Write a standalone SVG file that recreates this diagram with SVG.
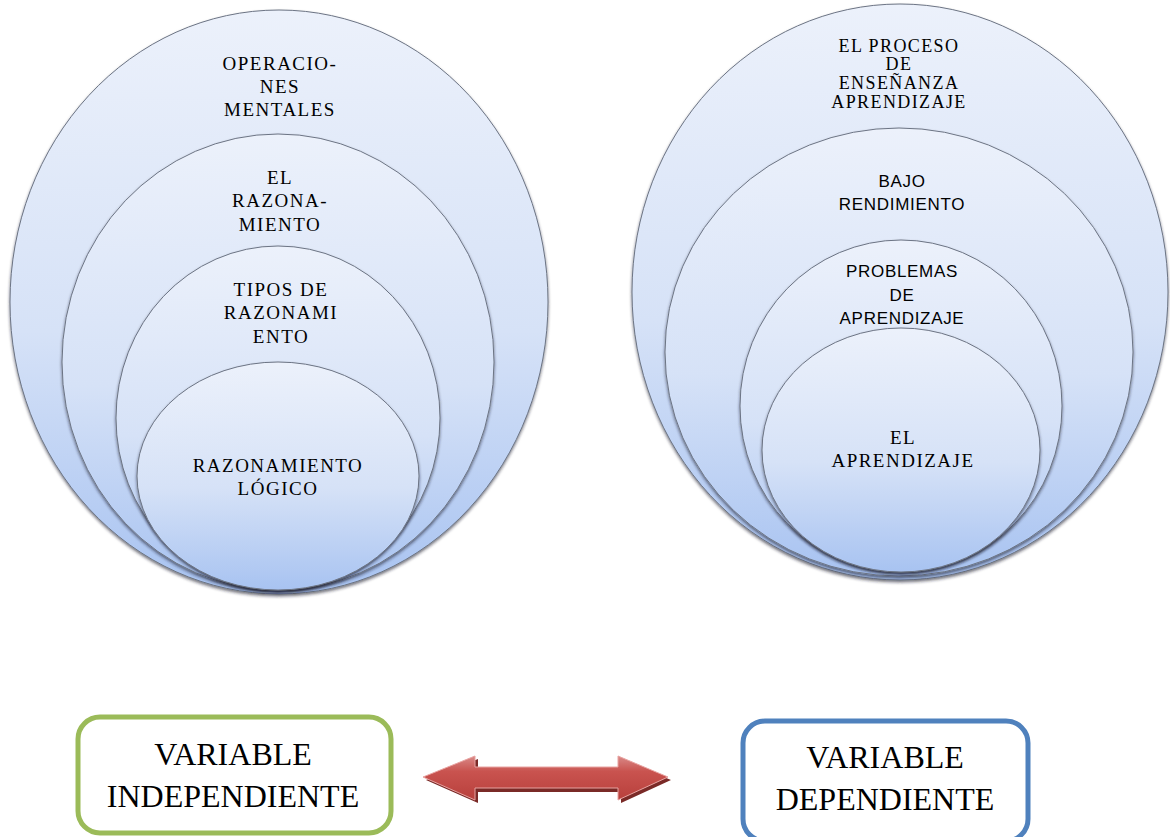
<svg xmlns="http://www.w3.org/2000/svg" width="1170" height="837" viewBox="0 0 1170 837">
  <defs>
    <linearGradient id="bubble" x1="0" y1="0" x2="0" y2="1">
      <stop offset="0" stop-color="#ecf1fb"/>
      <stop offset="0.55" stop-color="#d6e2f7"/>
      <stop offset="1" stop-color="#a8c3f1"/>
    </linearGradient>
    <linearGradient id="arrowFill" x1="0" y1="0" x2="0" y2="1">
      <stop offset="0" stop-color="#d98a88"/>
      <stop offset="0.35" stop-color="#c9534f"/>
      <stop offset="1" stop-color="#b8403c"/>
    </linearGradient>
    <filter id="rim" x="-5%" y="-5%" width="110%" height="112%">
      <feDropShadow dx="0" dy="2" stdDeviation="1.5" flood-color="#1a1f2a" flood-opacity="0.6"/>
    </filter>
  </defs>
  <style>
    .bub { fill: url(#bubble); stroke: #6c7484; stroke-width: 1; filter: url(#rim); }
    .serif { font-family: "Liberation Serif", "Times New Roman", serif; font-size: 19px; letter-spacing: 1.5px; fill: #000; text-anchor: middle; }
    .serif.sm { font-size: 18px; letter-spacing: 1.4px; }
    .sans { font-family: "Liberation Sans", Arial, sans-serif; font-size: 17px; letter-spacing: 0.7px; fill: #000; text-anchor: middle; }
    .big { font-family: "Liberation Serif", "Times New Roman", serif; font-size: 32px; fill: #000; text-anchor: middle; }
    .box { fill: #fff; stroke-width: 5; }
  </style>
  <rect width="1170" height="837" fill="#fff"/>

  <!-- independent variable bubbles -->
  <g id="operaciones-mentales">
    <ellipse class="bub" cx="279" cy="302" rx="269" ry="292"/>
    <text class="serif" x="280" y="70">OPERACIO-</text>
    <text class="serif" x="280" y="93">NES</text>
    <text class="serif" x="280" y="116">MENTALES</text>
  </g>
  <g id="el-razonamiento">
    <ellipse class="bub" cx="278" cy="362" rx="216" ry="228"/>
    <text class="serif" x="280" y="184">EL</text>
    <text class="serif" x="280" y="207">RAZONA-</text>
    <text class="serif" x="280" y="231">MIENTO</text>
  </g>
  <g id="tipos-de-razonamiento">
    <ellipse class="bub" cx="278" cy="418" rx="162" ry="172"/>
    <text class="serif" x="281" y="296">TIPOS DE</text>
    <text class="serif" x="281" y="319">RAZONAMI</text>
    <text class="serif" x="281" y="343">ENTO</text>
  </g>
  <g id="razonamiento-logico">
    <ellipse class="bub" cx="278" cy="476" rx="141" ry="114"/>
    <text class="serif" x="278" y="472">RAZONAMIENTO</text>
    <text class="serif" x="278" y="495">LÓGICO</text>
  </g>

  <!-- dependent variable bubbles -->
  <g id="proceso-ensenanza">
    <ellipse class="bub" cx="900" cy="292" rx="268" ry="288"/>
    <text class="serif sm" x="899" y="52">EL PROCESO</text>
    <text class="serif sm" x="899" y="70">DE</text>
    <text class="serif sm" x="899" y="89">ENSEÑANZA</text>
    <text class="serif sm" x="899" y="108">APRENDIZAJE</text>
  </g>
  <g id="bajo-rendimiento">
    <ellipse class="bub" cx="899" cy="352" rx="234" ry="224"/>
    <text class="sans" x="902" y="187">BAJO</text>
    <text class="sans" x="902" y="210">RENDIMIENTO</text>
  </g>
  <g id="problemas-aprendizaje">
    <ellipse class="bub" cx="901" cy="406" rx="161" ry="166"/>
    <text class="sans" x="902" y="277">PROBLEMAS</text>
    <text class="sans" x="902" y="301">DE</text>
    <text class="sans" x="902" y="324">APRENDIZAJE</text>
  </g>
  <g id="el-aprendizaje">
    <ellipse class="bub" cx="901" cy="450" rx="139" ry="122"/>
    <text class="serif" x="903" y="444">EL</text>
    <text class="serif" x="903" y="467">APRENDIZAJE</text>
  </g>

  <!-- variable boxes -->
  <g id="variable-independiente">
    <rect class="box" x="78" y="717" width="313" height="116" rx="22" stroke="#9bbb59"/>
    <text class="big" x="233" y="765">VARIABLE</text>
    <text class="big" x="233" y="807">INDEPENDIENTE</text>
  </g>
  <g id="variable-dependiente">
    <rect class="box" x="743" y="721" width="285" height="120" rx="22" stroke="#4f81bd"/>
    <text class="big" x="885" y="768">VARIABLE</text>
    <text class="big" x="885" y="810">DEPENDIENTE</text>
  </g>

  <!-- connectors -->
  <g id="connectors">
    <path d="M426 780 L478 759 L478 770 L621 770 L621 759 L671 780 L621 803 L621 792 L478 792 L478 803 Z" fill="#7a2a27"/>
    <path d="M423 777 L475 756 L475 767 L618 767 L618 756 L668 777 L618 800 L618 788 L475 788 L475 800 Z" fill="url(#arrowFill)" stroke="#e8a3a1" stroke-width="1"/>
  </g>
</svg>
